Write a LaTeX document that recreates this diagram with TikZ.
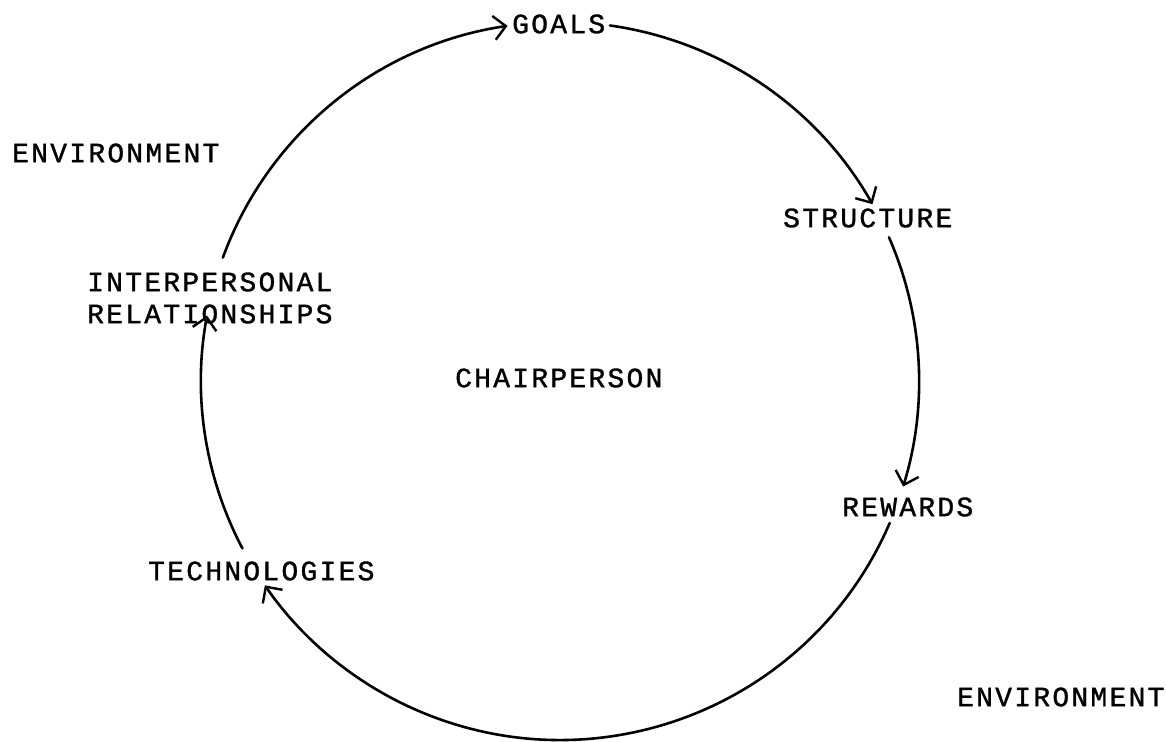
\documentclass[tikz,border=0pt]{standalone}
\usepackage{fontspec}
\setmonofont[LetterSpace=8,FakeBold=1.2]{Liberation Mono}
\usetikzlibrary{arrows.meta,calc}
\begin{document}
\begin{tikzpicture}[x=1pt,y=1pt,
  lbl/.style={anchor=west,inner sep=0pt,font=\ttfamily\fontsize{28}{32}\selectfont},
  flow/.style={line width=2.6pt,line cap=round,-{Straight Barb[length=12pt,width=24pt,line width=2.4pt]}}]
\useasboundingbox (0,0) rectangle (1166,741);
% circle centre (560,360), radius 359
\coordinate (O) at (560,360);
% labels
\node[lbl] (goals) at (512,717) {GOALS};
\node[lbl] (envtl) at (12,588) {ENVIRONMENT};
\node[lbl] (structure) at (783,523) {STRUCTURE};
\node[lbl,align=left] (inter) at (87,443) {INTERPERSONAL\\RELATIONSHIPS};
\node[lbl] (chair) at (455,363) {CHAIRPERSON};
\node[lbl] (rewards) at (842,234) {REWARDS};
\node[lbl] (tech) at (148,170) {TECHNOLOGIES};
\node[lbl] (envbr) at (957,44) {ENVIRONMENT};
% points on the circle
\coordinate (interOut) at ($(O)+(159.9:359)$);
\coordinate (goalsOut) at ($(O)+(82.0:359)$);
\coordinate (structOut) at ($(O)+(23.6:359)$);
\coordinate (rewOut) at ($(O)+(-23.3:359)$);
\coordinate (techOut) at ($(O)+(207.8:359)$);
% connectors
\draw[flow] (interOut) arc[start angle=159.9,end angle=98.4,radius=359];
\draw[flow] (goalsOut) arc[start angle=82.0,end angle=29.5,radius=359];
\draw[flow] (structOut) arc[start angle=23.6,end angle=-17.1,radius=359];
\draw[flow] (rewOut) arc[start angle=-23.3,end angle=-145.3,radius=359];
\draw[flow] (techOut) arc[start angle=207.8,end angle=169.5,radius=359];
\end{tikzpicture}
\end{document}
